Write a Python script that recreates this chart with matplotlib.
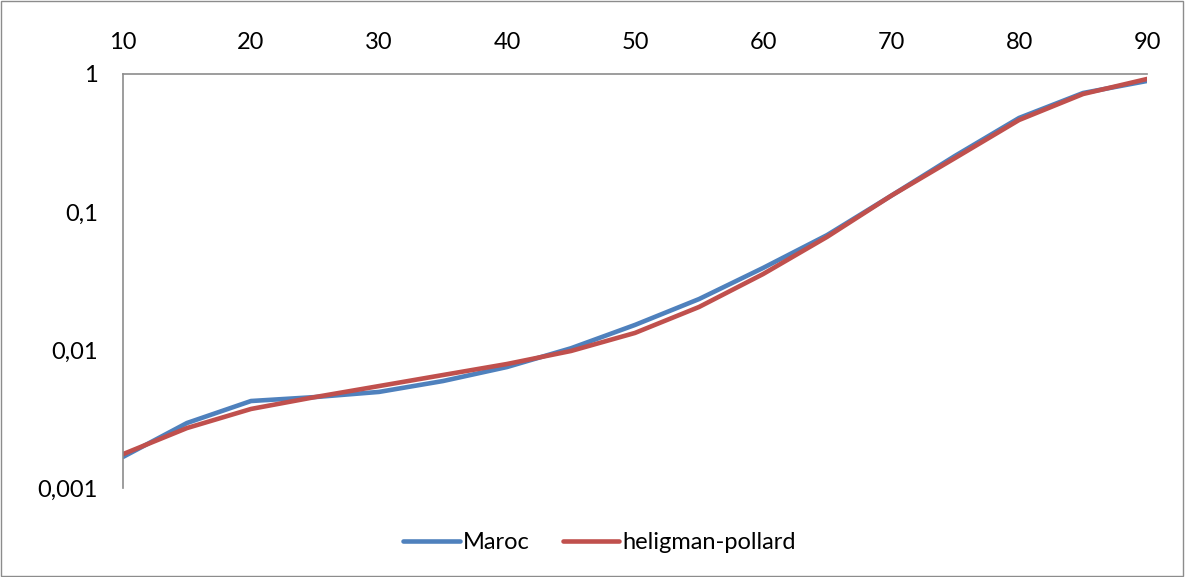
import matplotlib.pyplot as plt
from matplotlib.patches import Rectangle

plt.rcParams['font.family'] = ['Lato', 'DejaVu Sans']

ages = [10, 15, 20, 25, 30, 35, 40, 45, 50, 55, 60, 65, 70, 75, 80, 85, 90]
maroc = [0.00168, 0.00296, 0.00427, 0.00456, 0.00497, 0.00596, 0.00753, 0.0103,
         0.0152, 0.0234, 0.0393, 0.068, 0.131, 0.255, 0.48, 0.728, 0.89]
hp = [0.00176, 0.00272, 0.00374, 0.00456, 0.00548, 0.00659, 0.00792, 0.00984,
      0.0133, 0.0205, 0.0355, 0.066, 0.131, 0.246, 0.464, 0.716, 0.92]

xticks = [10, 20, 30, 40, 50, 60, 70, 80, 90]
yticks = [0.001, 0.01, 0.1, 1]
ylabels = ['0,001', '0,01', '0,1', '1']

fig = plt.figure(figsize=(11.85, 5.77), dpi=100)
ax = fig.add_axes([0.1038, 0.1542, 0.8642, 0.7176])

ax.plot(ages, maroc, color='#4F81BD', lw=3.3, label='Maroc', solid_capstyle='round')
ax.plot(ages, hp, color='#C0504D', lw=3.3, label='heligman-pollard', solid_capstyle='round')

ax.set_yscale('log')
ax.set_xlim(10, 90)
ax.set_ylim(0.001, 1)
ax.set_xticks(xticks)
ax.set_yticks(yticks)
ax.set_yticklabels(ylabels)
ax.minorticks_off()
ax.xaxis.tick_top()
ax.tick_params(length=0, labelsize=17)
ax.tick_params(axis='x', pad=15)
ax.tick_params(axis='y', pad=18)

for side in ('right', 'bottom'):
    ax.spines[side].set_visible(False)
for side in ('left', 'top'):
    ax.spines[side].set_color('#8c8c8c')
    ax.spines[side].set_linewidth(1.2)

fig.legend(loc='center', bbox_to_anchor=(0.506, 0.059), ncol=2, frameon=False,
           fontsize=17, handlelength=2.4, handletextpad=0.12, columnspacing=1.4)

# outer chart border
fig.patches.append(Rectangle((0.001, 0.002), 0.997, 0.996, transform=fig.transFigure,
                             fill=False, edgecolor='#8c8c8c', lw=1))

fig.savefig('out.png', dpi=100)
